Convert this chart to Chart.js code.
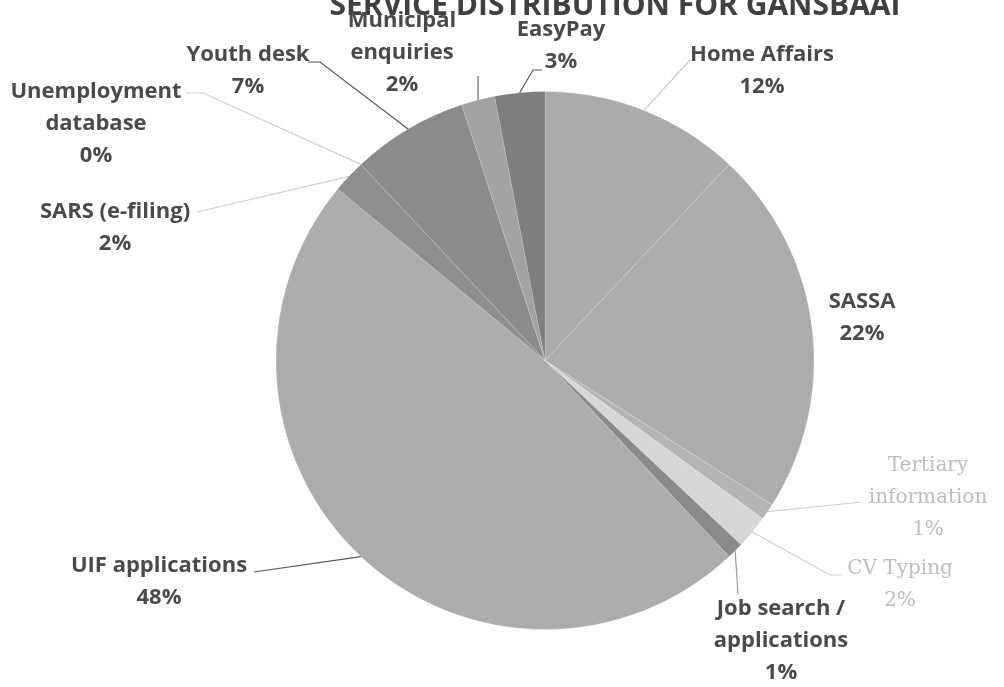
<!DOCTYPE html>
<html>
<head>
<meta charset="utf-8">
<script src="https://cdn.jsdelivr.net/npm/chart.js@4/dist/chart.umd.min.js"></script>
<style>
  html, body { margin: 0; padding: 0; background: #fff; }
  #wrap { width: 1004px; height: 687px; position: relative; }
</style>
</head>
<body>
<div id="wrap"><canvas id="myChart"></canvas></div>
<script>
// DATOS
const chartTitle = "SERVICE DISTRIBUTION FOR GANSBAAI";
const categories = [
    ["Home Affairs"],
    ["SASSA"],
    ["Tertiary", "information"],
    ["CV Typing"],
    ["Job search /", "applications"],
    ["UIF applications"],
    ["SARS (e-filing)"],
    ["Unemployment", "database"],
    ["Youth desk"],
    ["Municipal", "enquiries"],
    ["EasyPay"]
];
const percentages = [12, 22, 1, 2, 1, 48, 2, 0, 7, 2, 3];

// ESTILOS
const sliceColors = ['#ababab', '#acacac', '#b4b4b4', '#d6d6d6', '#8a8a8a', '#acacac',
    '#8e8e8e', '#8e8e8e', '#8b8b8b', '#a2a2a2', '#7e7e7e'];
// posición del texto (centro de la primera línea) y quiebre de la línea guía
const labelPlace = [
    { x: 762, y: 55, line: [[690, 60]], lineColor: '#c8c8c8' },
    { x: 862, y: 302, line: null },
    { x: 928, y: 466, line: [[862, 502]], lineColor: '#d0d0d0', light: true },
    { x: 900, y: 569, line: [[830, 575], [842, 575]], lineColor: '#d0d0d0', light: true },
    { x: 781, y: 609, line: [[738, 594]], lineColor: '#9a9a9a' },
    { x: 159, y: 566, line: [[254, 572]], lineColor: '#555555' },
    { x: 115, y: 212, line: [[197, 212]], lineColor: '#cfcfcf' },
    { x: 96, y: 92, line: [[203, 93], [186, 93]], lineColor: '#cfcfcf' },
    { x: 248, y: 55, line: [[320, 62], [308, 62]], lineColor: '#555555' },
    { x: 402, y: 21, line: [[478, 76]], lineColor: '#666666' },
    { x: 561, y: 30, line: [[533, 70], [542, 70]], lineColor: '#555555' }
];
const lineGap = 32;

// DIBUJAR TEXTOS Y LÍNEAS GUÍA
const etiquetas = {
    id: 'etiquetas',
    afterDraw(chart) {
        const ctx = chart.ctx;
        const arcs = chart.getDatasetMeta(0).data;
        ctx.save();

        // título (cortado arriba como en el original)
        ctx.font = "bold 30px 'Open Sans'";
        ctx.fillStyle = '#404040';
        ctx.textAlign = 'center';
        ctx.textBaseline = 'alphabetic';
        ctx.fillText(chartTitle, 615, 15);

        arcs.forEach((arc, i) => {
            const p = labelPlace[i];
            const a = arc.getProps(['x', 'y', 'startAngle', 'endAngle', 'outerRadius'], true);
            const mid = (a.startAngle + a.endAngle) / 2;
            if (p.line) {
                ctx.beginPath();
                ctx.moveTo(a.x + Math.cos(mid) * a.outerRadius, a.y + Math.sin(mid) * a.outerRadius);
                p.line.forEach(pt => ctx.lineTo(pt[0], pt[1]));
                ctx.strokeStyle = p.lineColor;
                ctx.lineWidth = 1.2;
                ctx.stroke();
            }
            const lines = categories[i].concat([percentages[i] + '%']);
            ctx.font = p.light ? "20px 'DejaVu Serif'" : "bold 22px 'Open Sans'";
            ctx.fillStyle = p.light ? '#bdbdbd' : '#4a4a4a';
            ctx.textBaseline = 'middle';
            lines.forEach((t, k) => ctx.fillText(t, p.x, p.y + k * lineGap));
        });
        ctx.restore();
    }
};

// CREAR GRÁFICO
const canvasGrafico = document.getElementById('myChart');
const grafico = new Chart(canvasGrafico, {
    type: 'pie',
    data: {
        labels: categories.map(c => c.join(' ')),
        datasets: [{
            data: percentages,
            backgroundColor: sliceColors,
            borderColor: 'rgba(255,255,255,0.15)',
            borderWidth: 1
        }]
    },
    options: {
        responsive: true,
        maintainAspectRatio: false,
        animation: false,
        layout: { padding: { left: 274, right: 188, top: 91, bottom: 57 } },
        plugins: {
            legend: { display: false },
            tooltip: { enabled: false },
            title: { display: false }
        }
    },
    plugins: [etiquetas]
});
</script>
</body>
</html>
